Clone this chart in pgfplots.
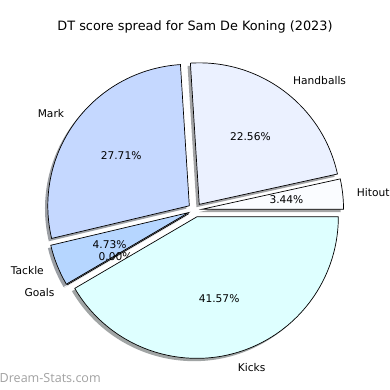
\documentclass[border=0pt]{standalone}
\usepackage{pgfplots}
\pgfplotsset{compat=1.18}
\usepackage{pgfplotstable}
\usepackage{fontspec}
\setmainfont{DejaVu Sans}
\newfontfamily\wmfont{Open Sans}
\definecolor{cHit}{HTML}{FAFCFF}
\definecolor{cHand}{HTML}{EBF1FF}
\definecolor{cMark}{HTML}{C5D8FF}
\definecolor{cTack}{HTML}{B6D6FF}
\definecolor{cGoal}{HTML}{C0E0FF}
\definecolor{cKick}{HTML}{DEFFFF}
\tikzset{lbl/.style={font=\fontsize{10.7}{12}\selectfont,inner sep=0pt},
         ttl/.style={font=\fontsize{12.9}{14}\selectfont,inner sep=0pt}}
\pgfplotstableread{
label pct col
Hitout 3.44 cHit
Handballs 22.56 cHand
Mark 27.71 cMark
Tackle 4.73 cTack
Goals 0.00 cGoal
Kicks 41.57 cKick
}\piedata
\begin{document}
\begin{tikzpicture}
\begin{axis}[width=390bp,height=390bp,scale only axis,
  xmin=0,xmax=390,ymin=0,ymax=390,hide axis,clip=false]
\coordinate (bl) at (axis cs:0,0);
\coordinate (tr) at (axis cs:390,390);
\def\cx{195}\def\cy{180}\def\R{141.5}\def\ex{0.05}
\pgfplotstablegetrowsof{\piedata}
\pgfmathtruncatemacro\nrows{\pgfplotsretval-1}
% total
\def\tot{0}
\pgfplotsforeachungrouped \i in {0,...,\nrows}{%
  \pgfplotstablegetelem{\i}{pct}\of\piedata
  \pgfmathsetmacro\tot{\tot+\pgfplotsretval}}
% shadows
\def\acc{0}
\pgfplotsforeachungrouped \i in {0,...,\nrows}{%
  \pgfplotstablegetelem{\i}{pct}\of\piedata \let\p\pgfplotsretval
  \pgfplotstablegetelem{\i}{col}\of\piedata \let\c\pgfplotsretval
  \pgfmathsetmacro\aone{\acc}
  \pgfmathsetmacro\atwo{\acc+\p*360/\tot}
  \pgfmathsetmacro\amid{(\aone+\atwo)/2}
  \pgfmathsetmacro\ox{\cx+\ex*\R*cos(\amid)-0.02*\R}
  \pgfmathsetmacro\oy{\cy+\ex*\R*sin(\amid)-0.02*\R}
  \edef\temp{\noexpand\fill[fill=\c!30!black,opacity=0.5]
    (axis cs:\ox,\oy) -- ++(\aone:\R bp) arc[start angle=\aone,end angle=\atwo,radius=\R bp] -- cycle;}
  \temp
  \let\acc\atwo}
% wedges and labels
\def\acc{0}
\pgfplotsforeachungrouped \i in {0,...,\nrows}{%
  \pgfplotstablegetelem{\i}{pct}\of\piedata \let\p\pgfplotsretval
  \pgfplotstablegetelem{\i}{col}\of\piedata \let\c\pgfplotsretval
  \pgfplotstablegetelem{\i}{label}\of\piedata \let\l\pgfplotsretval
  \pgfmathsetmacro\aone{\acc}
  \pgfmathsetmacro\atwo{\acc+\p*360/\tot}
  \pgfmathsetmacro\amid{(\aone+\atwo)/2}
  \pgfmathsetmacro\ox{\cx+\ex*\R*cos(\amid)}
  \pgfmathsetmacro\oy{\cy+\ex*\R*sin(\amid)}
  \pgfmathsetmacro\lx{\ox+1.1*\R*cos(\amid)}
  \pgfmathsetmacro\ly{\oy+1.1*\R*sin(\amid)}
  \pgfmathsetmacro\px{\ox+0.6*\R*cos(\amid)}
  \pgfmathsetmacro\py{\oy+0.6*\R*sin(\amid)}
  \pgfmathsetmacro\cs{cos(\amid)}
  \ifdim\cs pt>0pt \def\anc{west}\else\def\anc{east}\fi
  \edef\temp{\noexpand\filldraw[fill=\c,draw=black,line width=0.7bp,line join=miter]
    (axis cs:\ox,\oy) -- ++(\aone:\R bp) arc[start angle=\aone,end angle=\atwo,radius=\R bp] -- cycle;
    \noexpand\node[lbl,anchor=\anc] at (axis cs:\lx,\ly) {\l};
    \noexpand\node[lbl,anchor=center] at (axis cs:\px,\py) {\p\noexpand\%};}
  \temp
  \let\acc\atwo}
\node[ttl,anchor=center] at (axis cs:195,363) {DT score spread for Sam De Koning (2023)};
\node[inner sep=0pt,anchor=west,text=black!37,font=\wmfont\fontsize{12.6}{14}\selectfont] at (axis cs:-0.5,12) {Dream-Stats.com};
\end{axis}
\pgfresetboundingbox
\path (bl) rectangle (tr);
\end{tikzpicture}
\end{document}
